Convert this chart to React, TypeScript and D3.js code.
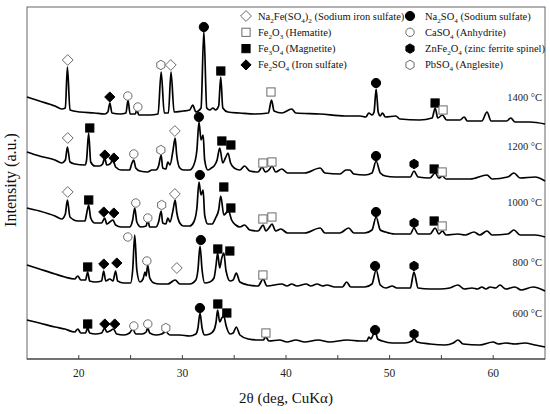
import React, { useEffect } from "react";
import * as d3 from "d3";

type Pt = [number, number];
type Mark = [string, number, number];

// 2θ (deg) vs intensity (a.u., patterns already stacked)
const pattern1400: Pt[] = [
  [15.0, 262], [16.2, 258], [17.7, 253], [18.35, 250], [18.7, 251], [18.9, 292], [19.15, 249],
  [20.1, 247], [21.5, 246], [22.5, 245], [22.8, 247], [23.0, 256], [23.2, 246], [24.0, 245],
  [24.55, 246], [24.75, 259], [24.95, 245], [25.45, 245], [25.6, 249], [25.8, 244], [26.85, 244],
  [27.65, 245], [27.95, 287], [28.25, 246], [28.65, 246], [28.9, 287], [29.2, 247], [30.05, 248],
  [30.7, 249], [31.0, 254], [31.3, 247], [31.8, 251], [32.07, 328], [32.35, 251], [32.65, 249],
  [32.95, 251], [33.2, 249], [33.5, 253], [33.7, 282], [33.9, 251], [34.4, 247], [35.55, 246],
  [37.0, 245], [38.3, 246], [38.6, 259], [38.85, 248], [39.6, 246], [40.55, 250], [40.95, 246],
  [43.3, 245], [45.7, 243], [47.15, 243], [47.7, 242], [48.0, 246], [48.3, 244], [48.5, 247],
  [48.7, 270], [48.9, 247], [49.1, 243], [49.3, 246], [49.6, 242], [50.6, 243], [51.0, 240],
  [52.9, 239], [54.1, 241], [54.4, 251], [54.65, 241], [55.1, 244], [55.5, 239], [56.8, 239],
  [57.2, 242], [57.5, 238], [58.9, 238], [59.4, 247], [59.8, 238], [61.3, 238], [61.7, 241],
  [62.1, 237], [63.55, 237], [65.0, 235],
];

const pattern1200: Pt[] = [
  [15.0, 207], [16.2, 203], [17.7, 199], [18.35, 196], [18.7, 199], [18.9, 212], [19.15, 197],
  [19.6, 195], [20.6, 194], [20.75, 199], [20.95, 226], [21.15, 197], [21.55, 193], [22.0, 193],
  [22.3, 195], [22.5, 201], [22.7, 194], [23.0, 195], [23.3, 199], [23.55, 192], [24.1, 189],
  [24.9, 189], [25.1, 195], [25.3, 199], [25.5, 191], [25.9, 188], [26.65, 187], [27.05, 189],
  [27.45, 189], [27.7, 193], [27.95, 204], [28.1, 191], [28.4, 190], [28.6, 197], [28.8, 194],
  [29.1, 209], [29.3, 221], [29.45, 204], [29.75, 191], [30.1, 189], [30.7, 189], [31.1, 194],
  [31.4, 209], [31.6, 237], [31.8, 219], [32.0, 224], [32.15, 199], [32.45, 189], [32.8, 191],
  [33.05, 193], [33.35, 199], [33.6, 211], [33.9, 196], [34.15, 201], [34.4, 206], [34.65, 196],
  [35.0, 191], [35.55, 189], [36.0, 193], [36.5, 188], [37.3, 187], [37.7, 192], [38.0, 187],
  [38.35, 189], [38.65, 193], [39.0, 187], [39.6, 190], [40.15, 186], [41.8, 186], [43.3, 191],
  [43.75, 186], [45.2, 185], [45.8, 189], [46.15, 189], [46.55, 185], [47.6, 184], [48.3, 186],
  [48.7, 198], [49.1, 186], [49.6, 183], [50.5, 182], [52.0, 182], [52.35, 188], [52.75, 182],
  [53.9, 181], [54.4, 186], [54.75, 181], [55.1, 183], [55.45, 180], [57.8, 180], [59.4, 184],
  [59.9, 180], [61.4, 182], [62.0, 186], [62.6, 181], [64.05, 182], [65.0, 178],
];

const pattern1000: Pt[] = [
  [15.0, 151], [16.2, 148], [17.7, 143], [18.35, 140], [18.7, 145], [18.9, 159], [19.15, 142],
  [19.9, 138], [20.6, 138], [20.75, 145], [20.95, 154], [21.15, 141], [21.55, 136], [22.2, 136],
  [22.5, 141], [22.7, 135], [23.0, 137], [23.3, 139], [23.55, 134], [24.1, 132], [24.9, 132],
  [25.2, 139], [25.4, 151], [25.6, 137], [26.0, 132], [26.5, 133], [26.65, 139], [26.85, 132],
  [27.45, 132], [27.7, 137], [27.95, 148], [28.1, 136], [28.4, 135], [28.6, 141], [28.8, 137],
  [29.1, 149], [29.3, 159], [29.45, 147], [29.75, 136], [30.1, 133], [30.7, 133], [31.1, 137],
  [31.4, 151], [31.6, 177], [31.8, 164], [32.0, 169], [32.15, 144], [32.45, 135], [32.85, 135],
  [33.2, 141], [33.5, 149], [33.7, 163], [34.0, 144], [34.3, 147], [34.45, 148], [34.75, 139],
  [35.15, 134], [35.55, 132], [36.0, 134], [36.5, 129], [37.3, 128], [37.8, 134], [38.05, 128],
  [38.35, 131], [38.65, 135], [39.0, 128], [39.5, 130], [40.15, 126], [41.8, 126], [43.3, 131],
  [43.75, 126], [45.2, 126], [46.05, 131], [46.55, 126], [47.6, 126], [48.3, 129], [48.7, 142],
  [49.1, 129], [49.6, 127], [50.5, 125], [52.0, 125], [52.35, 131], [52.75, 125], [53.9, 125],
  [54.4, 131], [54.75, 125], [55.1, 128], [55.45, 124], [56.6, 125], [57.3, 124], [58.15, 127],
  [58.7, 124], [59.4, 128], [59.9, 124], [61.4, 125], [62.0, 129], [62.6, 124], [64.05, 124],
  [65.0, 122],
];

const pattern800: Pt[] = [
  [15.0, 94], [16.2, 90], [17.7, 85], [18.65, 82], [19.6, 80], [19.9, 83], [20.2, 79], [20.65, 79],
  [20.85, 87], [21.05, 78], [21.6, 77], [22.2, 78], [22.4, 88], [22.6, 78], [23.0, 80], [23.3, 78],
  [23.55, 88], [23.75, 78], [24.35, 76], [25.0, 76], [25.2, 89], [25.4, 124], [25.6, 89],
  [25.9, 77], [26.2, 80], [26.4, 87], [26.5, 83], [26.65, 94], [26.85, 81], [27.25, 76],
  [27.8, 75], [28.6, 75], [29.3, 79], [29.75, 75], [30.7, 75], [31.3, 79], [31.5, 89],
  [31.7, 113], [31.9, 89], [32.15, 76], [32.65, 77], [33.05, 81], [33.25, 94], [33.4, 106],
  [33.6, 91], [33.8, 101], [34.0, 106], [34.2, 89], [34.6, 78], [34.9, 79], [35.2, 86],
  [35.55, 77], [36.35, 74], [37.3, 73], [37.8, 80], [38.15, 73], [39.6, 75], [40.1, 73],
  [40.55, 75], [41.05, 73], [41.95, 75], [42.4, 73], [43.0, 75], [43.55, 73], [43.95, 74],
  [44.7, 72], [45.45, 72], [45.85, 77], [46.25, 72], [47.6, 72], [48.3, 75], [48.7, 89],
  [49.1, 74], [49.65, 71], [50.25, 73], [50.7, 71], [52.0, 71], [52.35, 87], [52.75, 71],
  [53.9, 70], [54.85, 70], [55.8, 71], [56.6, 74], [57.2, 70], [57.95, 71], [58.5, 70],
  [58.9, 72], [59.3, 70], [59.7, 72], [60.25, 71], [60.65, 74], [61.2, 70], [62.1, 72],
  [62.7, 69], [63.85, 72], [65.0, 68],
];

const pattern600: Pt[] = [
  [15.0, 39], [16.2, 36], [17.7, 32], [18.65, 30], [19.6, 27], [19.9, 30], [20.2, 26], [20.65, 26],
  [20.85, 31], [21.05, 26], [21.6, 25], [22.2, 26], [22.5, 31], [22.7, 27], [23.0, 28], [23.35, 30],
  [23.65, 25], [24.35, 24], [24.9, 26], [25.2, 30], [25.5, 25], [26.1, 25], [26.5, 27],
  [26.65, 31], [26.85, 26], [27.45, 24], [28.0, 25], [28.4, 27], [28.8, 24], [29.75, 24],
  [30.7, 23], [31.3, 25], [31.5, 31], [31.7, 46], [31.9, 31], [32.15, 24], [32.65, 25],
  [33.05, 29], [33.25, 37], [33.4, 49], [33.6, 37], [33.8, 41], [34.0, 43], [34.2, 34],
  [34.6, 25], [34.9, 26], [35.2, 32], [35.55, 24], [36.35, 20], [37.3, 19], [37.8, 19],
  [38.05, 22], [38.35, 18], [39.4, 19], [40.1, 17], [40.95, 19], [41.8, 17], [43.1, 19],
  [44.2, 17], [45.9, 19], [47.15, 18], [47.8, 18], [48.0, 22], [48.2, 20], [48.45, 25],
  [48.65, 26], [48.85, 20], [49.3, 18], [50.25, 16], [51.45, 16], [52.15, 18], [52.35, 21],
  [52.65, 17], [53.9, 15], [55.35, 14], [56.15, 16], [56.6, 19], [57.1, 15], [58.7, 14],
  [60.0, 17], [60.5, 15], [61.2, 16], [62.1, 15], [63.05, 16], [64.05, 14], [65.0, 12],
];

const patterns = [pattern1400, pattern1200, pattern1000, pattern800, pattern600];
const temperatures = ["1400 °C", "1200 °C", "1000 °C", "800 °C", "600 °C"];

// phase identification marks: [phase, 2θ, intensity]
const marks1400: Mark[] = [
  ["nfs", 18.93, 299], ["fes", 22.99, 262], ["cas", 24.73, 263], ["cas", 25.7, 252],
  ["pbs", 27.92, 294], ["nfs", 28.88, 294], ["nas", 32.07, 332], ["mag", 33.71, 288],
  ["hem", 38.55, 267], ["nas", 48.69, 276], ["mag", 54.39, 256], ["hem", 55.16, 249],
];
const marks1200: Mark[] = [
  ["nfs", 18.93, 221], ["mag", 21.06, 231], ["fes", 22.51, 204], ["fes", 23.38, 201],
  ["cas", 25.31, 205], ["pbs", 27.92, 209], ["nfs", 29.27, 228], ["nas", 31.59, 242],
  ["mag", 33.81, 218], ["mag", 34.68, 214], ["hem", 37.77, 196], ["hem", 38.64, 197],
  ["nas", 48.69, 203], ["znf", 52.36, 195], ["mag", 54.3, 190], ["hem", 55.07, 187],
];
const marks1000: Mark[] = [
  ["nfs", 18.93, 167], ["mag", 20.96, 159], ["fes", 22.41, 147], ["fes", 23.38, 146],
  ["cas", 25.5, 156], ["cas", 26.66, 141], ["pbs", 28.0, 154], ["nfs", 29.27, 165],
  ["nas", 31.69, 184], ["mag", 34.0, 172], ["mag", 34.68, 151], ["hem", 37.77, 140],
  ["hem", 38.64, 142], ["nas", 48.69, 147], ["znf", 52.36, 136], ["mag", 54.3, 138],
  ["hem", 55.07, 133],
];
const marks800: Mark[] = [
  ["mag", 20.86, 92], ["fes", 22.41, 95], ["fes", 23.67, 96], ["cas", 24.73, 122],
  ["cas", 26.57, 98], ["nfs", 29.46, 91], ["nas", 31.78, 119], ["mag", 33.42, 110],
  ["mag", 34.58, 108], ["hem", 37.77, 84], ["nas", 48.6, 93], ["znf", 52.36, 93],
];
const marks600: Mark[] = [
  ["mag", 20.86, 35], ["fes", 22.51, 35], ["fes", 23.47, 35], ["cas", 25.31, 33],
  ["cas", 26.66, 35], ["pbs", 28.4, 31], ["nas", 31.69, 51], ["mag", 33.42, 55],
  ["mag", 34.29, 46], ["hem", 38.06, 26], ["nas", 48.6, 29], ["znf", 52.36, 25],
];
const allMarks = [...marks1400, ...marks1200, ...marks1000, ...marks800, ...marks600];

const phaseKeys = ["nfs", "hem", "mag", "fes", "nas", "cas", "znf", "pbs"];
const phaseNames = [
  "Na_2Fe(SO_4)_2 (Sodium iron sulfate)",
  "Fe_2O_3 (Hematite)",
  "Fe_3O_4 (Magnetite)",
  "Fe_2SO_4 (Iron sulfate)",
  "Na_2SO_4 (Sodium sulfate)",
  "CaSO_4 (Anhydrite)",
  "ZnFe_2O_4 (zinc ferrite spinel)",
  "PbSO_4 (Anglesite)",
];

const xTickValues = [20, 25, 30, 35, 40, 45, 50, 55, 60];
const xLabelValues = [20, 30, 40, 50, 60];

const W = 550;
const H = 414;
const M = { left: 27, right: 545, top: 7, bottom: 359 };
const FONT = "'Liberation Serif', 'DejaVu Serif', serif";

const shapeOf: Record<string, { kind: string; filled: boolean }> = {
  nfs: { kind: "diamond", filled: false },
  hem: { kind: "square", filled: false },
  mag: { kind: "square", filled: true },
  fes: { kind: "diamond", filled: true },
  nas: { kind: "circle", filled: true },
  cas: { kind: "circle", filled: false },
  znf: { kind: "hexagon", filled: true },
  pbs: { kind: "hexagon", filled: false },
};

function Marker({ phase, x, y }: { phase: string; x: number; y: number }) {
  const s = shapeOf[phase];
  const fill = s.filled ? "#000" : "#fff";
  const stroke = s.filled ? "#000" : "#6b6b6b";
  const sw = 1;
  if (s.kind === "circle") {
    return <circle cx={x} cy={y} r={s.filled ? 4.6 : 4.2} fill={fill} stroke={stroke} strokeWidth={sw} />;
  }
  if (s.kind === "square") {
    const h = 4.1;
    return <rect x={x - h} y={y - h} width={2 * h} height={2 * h} fill={fill} stroke={stroke} strokeWidth={sw} />;
  }
  if (s.kind === "diamond") {
    const h = s.filled ? 5.1 : 5.4;
    const p = `M${x},${y - h}L${x + h},${y}L${x},${y + h}L${x - h},${y}Z`;
    return <path d={p} fill={fill} stroke={stroke} strokeWidth={sw} />;
  }
  const r = 4.7;
  const pts = d3.range(6).map((k) => {
    const a = (Math.PI / 3) * k - Math.PI / 2;
    return [x + r * Math.cos(a), y + r * Math.sin(a)];
  });
  return <path d={"M" + pts.map((p) => p.join(",")).join("L") + "Z"} fill={fill} stroke={stroke} strokeWidth={sw} />;
}

function Chem({ text, x, y, size }: { text: string; x: number; y: number; size: number }) {
  const parts = text.split(/(_\d)/).filter((p) => p.length);
  let shifted = false;
  return (
    <text x={x} y={y} fontFamily={FONT} fontSize={size} fill="#111">
      {parts.map((p, i) => {
        if (p.startsWith("_")) {
          shifted = true;
          return (
            <tspan key={i} dy={3} fontSize={size * 0.68}>
              {p.slice(1)}
            </tspan>
          );
        }
        const dy = shifted ? -3 : 0;
        shifted = false;
        return (
          <tspan key={i} dy={dy}>
            {p}
          </tspan>
        );
      })}
    </text>
  );
}

export default function App() {
  useEffect(() => {
    document.body.style.margin = "0";
  }, []);

  const x = d3.scaleLinear().domain([15, 65]).range([M.left, M.right]);
  const y = d3.scaleLinear().domain([0, 352]).range([M.bottom, M.top]);
  const line = d3
    .line<Pt>()
    .x((d) => x(d[0]))
    .y((d) => y(d[1]))
    .curve(d3.curveMonotoneX);

  const labelY = [97, 146, 202, 262, 313];

  return (
    <svg width={W} height={H} style={{ display: "block", background: "#fff" }}>
      <rect x={M.left} y={M.top} width={M.right - M.left} height={M.bottom - M.top} fill="none" stroke="#666" strokeWidth={1} />
      {xTickValues.map((t) => (
        <line key={t} x1={x(t)} x2={x(t)} y1={M.bottom} y2={M.bottom - 4} stroke="#444" strokeWidth={1} />
      ))}
      <line x1={M.left} x2={M.right} y1={M.bottom} y2={M.bottom} stroke="#333" strokeWidth={1.2} />
      {xLabelValues.map((t) => (
        <text key={t} x={x(t)} y={M.bottom + 18} textAnchor="middle" fontFamily={FONT} fontSize={11.5} fill="#222">
          {t}
        </text>
      ))}
      <text x={286} y={403} textAnchor="middle" fontFamily={FONT} fontSize={15} fill="#111">
        2θ (deg, CuKα)
      </text>
      <text
        transform={`translate(16,180) rotate(-90)`}
        textAnchor="middle"
        fontFamily={FONT}
        fontSize={16}
        fill="#111"
      >
        Intensity (a.u.)
      </text>

      {patterns.map((p, i) => (
        <path key={i} d={line(p) || ""} fill="none" stroke="#000" strokeWidth={1.7} strokeLinejoin="round" />
      ))}

      {allMarks.map((m, i) => (
        <Marker key={i} phase={m[0]} x={x(m[1])} y={y(m[2])} />
      ))}

      {temperatures.map((t, i) => (
        <text key={t} x={542} y={labelY[i]} dominantBaseline="central" textAnchor="end" fontFamily={FONT} fontSize={10.5} fill="#222">
          {t}
        </text>
      ))}

      {phaseKeys.map((k, i) => {
        const col = Math.floor(i / 4);
        const row = i % 4;
        const mx = col === 0 ? 246 : 410;
        const tx = col === 0 ? 258 : 425;
        const cy = 16 + row * 16.3;
        return (
          <g key={k}>
            <Marker phase={k} x={mx} y={cy} />
            <Chem text={phaseNames[i]} x={tx} y={cy + 3.5} size={10.5} />
          </g>
        );
      })}
    </svg>
  );
}
